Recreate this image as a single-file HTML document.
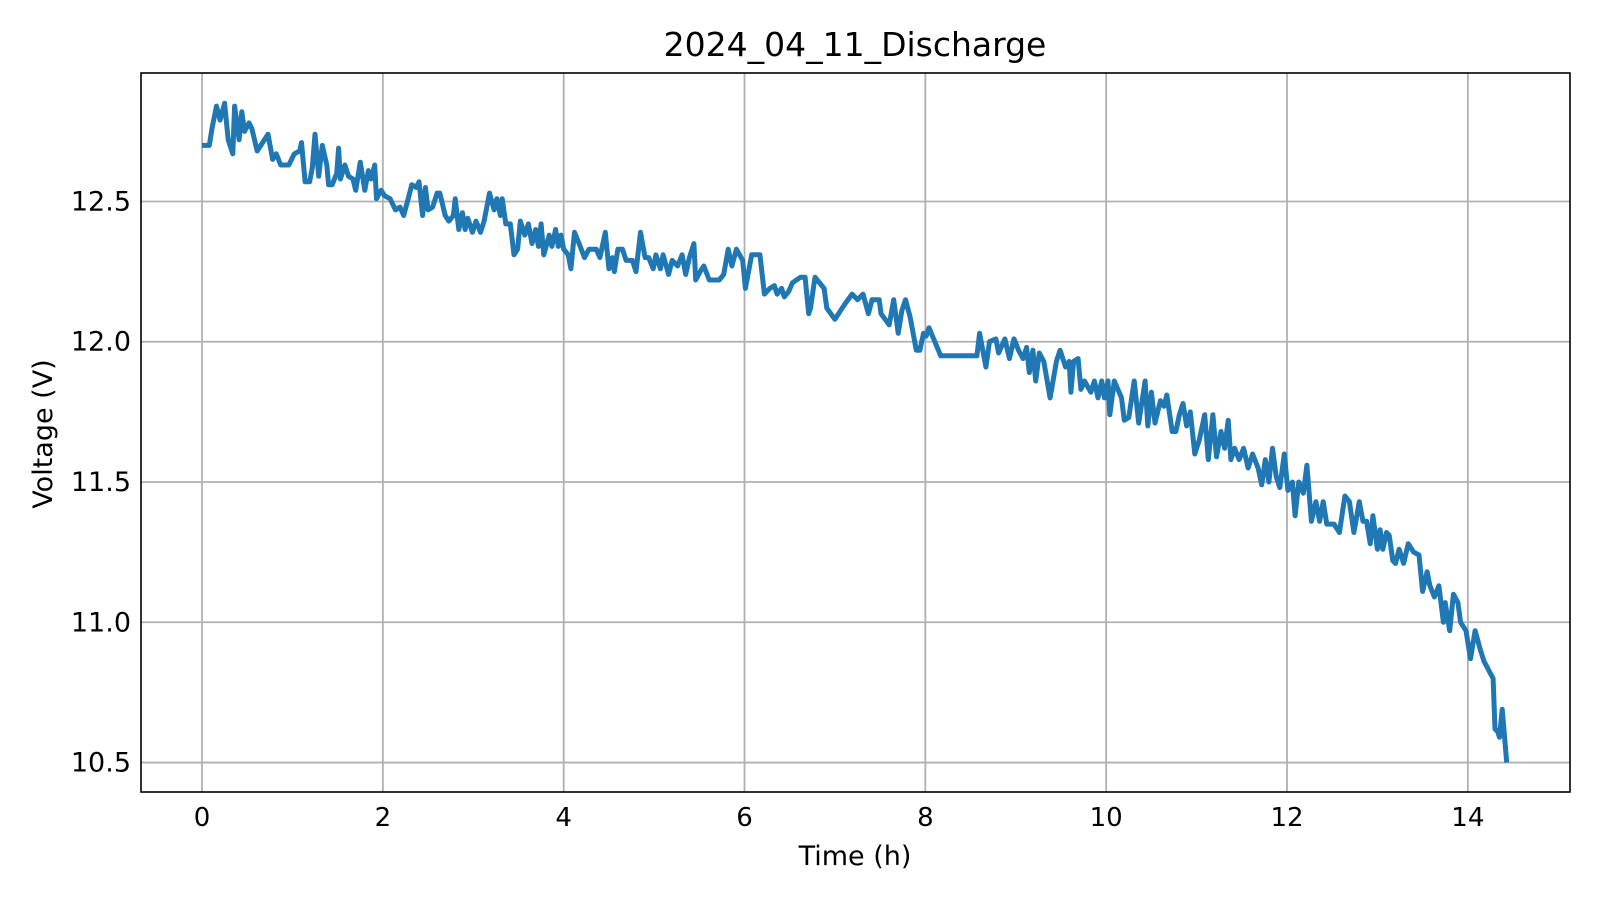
<!DOCTYPE html>
<html><head><meta charset="utf-8"><style>
body{margin:0;background:#fff;}
svg{display:block;font-family:"DejaVu Sans","Liberation Sans",sans-serif;}
</style></head><body>
<svg id="chart" width="1600" height="900">
<rect x="0" y="0" width="1600" height="900" fill="#fff"/>
<g id="grid"></g>
<g id="series"></g>
<rect x="141" y="73" width="1429" height="719" fill="none" stroke="#000" stroke-width="1.6"/>
<g id="xticks"></g>
<g id="yticks"></g>
<text x="855" y="56" font-size="33" text-anchor="middle">2024_04_11_Discharge</text>
<text x="855" y="865" font-size="27" text-anchor="middle">Time (h)</text>
<text x="0" y="0" font-size="27" text-anchor="middle" transform="translate(52,434) rotate(-90)">Voltage (V)</text>
</svg>
<script>
const xTicks=[0,2,4,6,8,10,12,14];
const yTicks=[10.5,11.0,11.5,12.0,12.5];
const yTickLabels=["10.5","11.0","11.5","12.0","12.5"];
const times=[0,0.08,0.11,0.16,0.20,0.25,0.29,0.34,0.36,0.41,0.44,0.47,0.52,0.55,0.61,0.67,0.73,0.78,0.82,0.87,0.96,1.02,1.08,1.10,1.14,1.19,1.22,1.25,1.29,1.33,1.38,1.40,1.44,1.49,1.51,1.53,1.58,1.62,1.67,1.70,1.75,1.80,1.84,1.87,1.91,1.93,1.98,2.02,2.08,2.14,2.19,2.23,2.28,2.32,2.37,2.40,2.44,2.47,2.50,2.55,2.60,2.63,2.69,2.73,2.78,2.80,2.84,2.88,2.91,2.94,2.99,3.03,3.08,3.12,3.18,3.23,3.26,3.30,3.32,3.36,3.41,3.45,3.49,3.52,3.57,3.61,3.65,3.69,3.72,3.75,3.78,3.84,3.87,3.91,3.94,3.97,4.00,4.05,4.08,4.12,4.17,4.23,4.28,4.36,4.40,4.46,4.50,4.54,4.56,4.60,4.65,4.69,4.76,4.80,4.85,4.90,4.94,4.99,5.02,5.07,5.10,5.16,5.20,5.26,5.31,5.35,5.39,5.44,5.46,5.51,5.55,5.61,5.72,5.77,5.82,5.86,5.91,5.98,6.01,6.08,6.17,6.22,6.28,6.33,6.36,6.41,6.44,6.49,6.53,6.62,6.67,6.71,6.73,6.78,6.88,6.91,7.00,7.10,7.19,7.25,7.31,7.37,7.41,7.49,7.51,7.60,7.65,7.70,7.74,7.78,7.83,7.90,7.94,7.98,8.01,8.04,8.17,8.57,8.60,8.67,8.71,8.78,8.81,8.88,8.93,8.98,9.03,9.08,9.12,9.15,9.19,9.22,9.26,9.31,9.38,9.45,9.49,9.55,9.59,9.61,9.64,9.69,9.72,9.76,9.83,9.87,9.91,9.95,9.98,10.02,10.04,10.09,10.17,10.20,10.25,10.31,10.36,10.43,10.46,10.50,10.54,10.60,10.64,10.67,10.73,10.77,10.81,10.85,10.89,10.93,10.98,11.03,11.09,11.13,11.18,11.22,11.27,11.31,11.35,11.38,11.42,11.47,11.52,11.57,11.62,11.68,11.72,11.76,11.80,11.84,11.88,11.92,11.97,12.01,12.06,12.09,12.13,12.18,12.22,12.27,12.32,12.36,12.40,12.44,12.52,12.58,12.64,12.69,12.74,12.80,12.84,12.88,12.92,12.95,13.00,13.03,13.06,13.10,13.13,13.17,13.20,13.24,13.29,13.34,13.40,13.46,13.50,13.55,13.58,13.63,13.68,13.73,13.75,13.80,13.84,13.89,13.92,13.98,14.03,14.08,14.14,14.18,14.23,14.28,14.30,14.33,14.35,14.38,14.43];
const volts=[12.70,12.70,12.76,12.84,12.79,12.85,12.72,12.67,12.84,12.72,12.82,12.75,12.78,12.76,12.68,12.71,12.74,12.65,12.67,12.63,12.63,12.67,12.68,12.71,12.57,12.57,12.62,12.74,12.59,12.70,12.63,12.56,12.56,12.60,12.69,12.58,12.63,12.59,12.58,12.54,12.64,12.54,12.61,12.58,12.63,12.51,12.54,12.52,12.51,12.47,12.48,12.45,12.51,12.56,12.55,12.57,12.45,12.55,12.47,12.48,12.53,12.53,12.45,12.43,12.45,12.51,12.40,12.46,12.40,12.44,12.39,12.43,12.39,12.43,12.53,12.47,12.51,12.45,12.51,12.42,12.42,12.31,12.33,12.43,12.38,12.42,12.35,12.40,12.34,12.42,12.31,12.38,12.34,12.40,12.34,12.38,12.33,12.31,12.26,12.39,12.35,12.30,12.33,12.33,12.30,12.39,12.26,12.30,12.25,12.33,12.33,12.29,12.29,12.25,12.39,12.30,12.30,12.26,12.31,12.26,12.31,12.24,12.29,12.27,12.31,12.24,12.30,12.35,12.22,12.25,12.27,12.22,12.22,12.24,12.33,12.27,12.33,12.29,12.19,12.31,12.31,12.17,12.19,12.20,12.17,12.19,12.16,12.18,12.21,12.23,12.23,12.10,12.12,12.23,12.19,12.12,12.08,12.13,12.17,12.15,12.17,12.10,12.15,12.15,12.10,12.06,12.15,12.03,12.11,12.15,12.09,11.97,11.97,12.03,12.02,12.05,11.95,11.95,12.03,11.91,12.00,12.01,11.96,12.01,11.94,12.01,11.97,11.94,11.98,11.89,11.97,11.86,11.96,11.93,11.80,11.93,11.97,11.91,11.93,11.82,11.93,11.94,11.83,11.86,11.82,11.86,11.80,11.86,11.80,11.86,11.74,11.86,11.80,11.72,11.73,11.86,11.71,11.86,11.70,11.82,11.71,11.79,11.77,11.81,11.68,11.68,11.74,11.78,11.70,11.75,11.60,11.65,11.74,11.58,11.74,11.59,11.68,11.62,11.72,11.58,11.62,11.58,11.62,11.55,11.60,11.55,11.49,11.58,11.50,11.62,11.52,11.48,11.60,11.47,11.50,11.38,11.50,11.46,11.56,11.36,11.43,11.36,11.43,11.35,11.35,11.32,11.45,11.43,11.32,11.43,11.36,11.36,11.28,11.38,11.26,11.33,11.26,11.32,11.31,11.22,11.21,11.26,11.21,11.28,11.25,11.24,11.11,11.18,11.13,11.09,11.13,11.00,11.07,10.97,11.10,11.07,11.00,10.97,10.87,10.97,10.90,10.86,10.83,10.80,10.62,10.61,10.59,10.69,10.50];
const NS='http://www.w3.org/2000/svg';
const L=141,R=1570,T=73,B=792;
const xMin=-0.675,xMax=15.13,yMin=10.395,yMax=12.958;
function sx(t){return L+(t-xMin)/(xMax-xMin)*(R-L);}
function sy(v){return B-(v-yMin)/(yMax-yMin)*(B-T);}
function mk(tag,attrs,parent){const e=document.createElementNS(NS,tag);for(const k in attrs)e.setAttribute(k,attrs[k]);parent.appendChild(e);return e;}
const grid=document.getElementById('grid'),xt=document.getElementById('xticks'),yt=document.getElementById('yticks');
xTicks.forEach(t=>{
  const g=mk('line',{x1:sx(t),x2:sx(t),y1:T,y2:B,stroke:'#b0b0b0','stroke-width':1.8},grid);
  
  
  const lb=mk('text',{x:sx(t),y:B+34,'font-size':26,'text-anchor':'middle'},xt);
  lb.textContent=String(t);
  
  
});
yTicks.forEach((v,i)=>{
  const g=mk('line',{x1:L,x2:R,y1:sy(v),y2:sy(v),stroke:'#b0b0b0','stroke-width':1.8},grid);
  
  
  const lb=mk('text',{x:L-10,y:sy(v)+9,'font-size':27,'text-anchor':'end'},yt);
  lb.textContent=yTickLabels[i];
  
  
});
const pts=times.map((t,i)=>sx(t).toFixed(1)+','+sy(volts[i]).toFixed(1)).join(' ');
const line=mk('polyline',{points:pts,fill:'none',stroke:'#1f77b4','stroke-width':5,'stroke-linejoin':'round','stroke-linecap':'butt'},document.getElementById('series'));


</script>
</body></html>
